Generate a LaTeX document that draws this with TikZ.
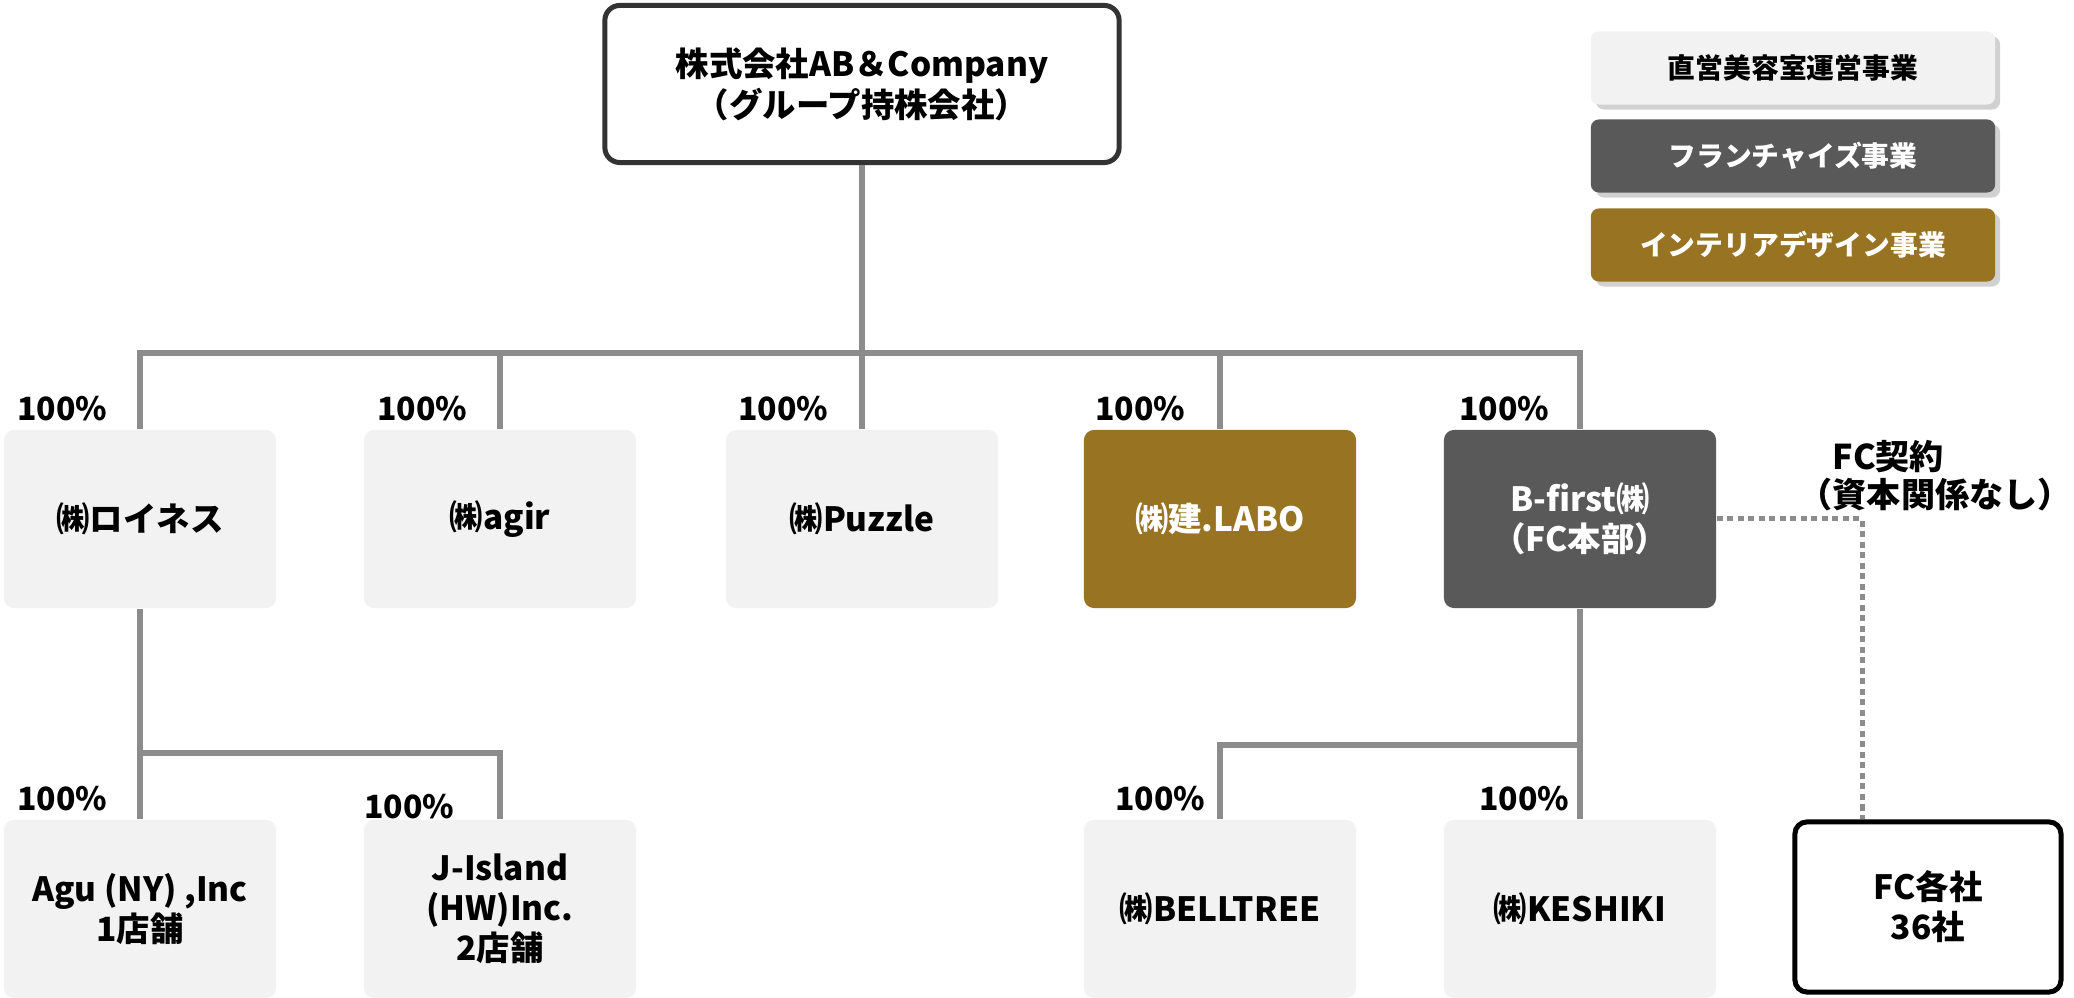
\documentclass[tikz,border=0pt]{standalone}
\usepackage{fontspec}
\setmainfont{Noto Sans CJK JP}
\usetikzlibrary{shadows}

\definecolor{boxlight}{HTML}{F2F2F2}
\definecolor{boxdark}{HTML}{595959}
\definecolor{boxgold}{HTML}{987322}
\definecolor{linegray}{HTML}{8C8C8C}
\definecolor{topframe}{HTML}{333333}

\begin{document}
\begin{tikzpicture}[x=0.01cm, y=-0.01cm,
		company/.style={rounded corners=0.1cm, minimum width=2.72cm, minimum height=1.78cm, inner sep=0pt, align=center, font=\fontsize{9.5}{11.4}\selectfont\bfseries},
		light/.style={company, fill=boxlight},
		gold/.style={company, fill=boxgold, text=white},
		dark/.style={company, fill=boxdark, text=white},
		legend/.style={rounded corners=0.08cm, minimum width=4.04cm, minimum height=0.73cm, inner sep=0pt, font=\fontsize{7.9}{9}\selectfont\bfseries, drop shadow={shadow xshift=0.05cm, shadow yshift=-0.05cm, opacity=0.3, fill=black!60}},
		pct/.style={anchor=east, inner sep=0pt, font=\fontsize{9.1}{11}\selectfont\bfseries},
		conn/.style={linegray, line width=0.055cm},
		fcline/.style={linegray, line width=0.05cm, dash pattern=on 0.06cm off 0.045cm}]
			\useasboundingbox (0,0) rectangle (2074,998);
			
			\node[draw=topframe, line width=0.05cm, rounded corners=0.15cm, minimum width=5.14cm, minimum height=1.57cm, align=center, font=\fontsize{9.5}{11.6}\selectfont\bfseries] (hold) at (862,84){株式会社AB＆Company\\（グループ持株会社）};
			
			\node[legend, fill=boxlight] (legdirect) at (1793,68){直営美容室運営事業};
			\node[legend, fill=boxdark, text=white] (legfc) at (1793,156){フランチャイズ事業};
			\node[legend, fill=boxgold, text=white] (leginterior) at (1793,245){インテリアデザイン事業};
			
			\node[light] (roi) at (140,519){㈱ロイネス};
			\node[light] (agir) at (500,519){㈱agir};
			\node[light] (puzzle) at (862,519){㈱Puzzle};
			\node[gold] (labo) at (1220,519){㈱建.LABO};
			\node[dark] (bfirst) at (1580,519){B-first㈱\\（FC本部）};
			
			\node[light] (agu) at (140,909){Agu (NY) ,Inc\\1店舗};
			\node[light] (jisland) at (500,909){J-Island\\(HW)Inc.\\2店舗};
			\node[light] (bell) at (1220,909){㈱BELLTREE};
			\node[light] (keshiki) at (1580,909){㈱KESHIKI};
			\node[company, fill=white, draw=black, line width=0.05cm, rounded corners=0.12cm, minimum width=2.66cm, minimum height=1.70cm] (fc) at (1928,907){FC各社\\36社};
			
			\foreach \x/\n in {108/a,468/b,829/c,1186/d,1550/e}
				\node[pct] (pct\n) at (\x,409){100\%};
			\foreach \x/\y/\n in {108/799/f,455/807/g,1206/799/h,1570/799/i}
				\node[pct] (pct\n) at (\x,\y){100\%};
			
			\node[anchor=north west, align=left, inner sep=0pt, font=\fontsize{9.7}{10.6}\selectfont\bfseries] (fcnote) at (1798,440){\hspace*{1em}FC契約\\（資本関係なし）};
			
			\coordinate (bus) at (0,353);
			\coordinate (lowleft) at (0,753);
			\coordinate (lowright) at (0,745);
			\coordinate (fcbend) at (1862,519);
			
			\draw[conn] (hold.south) -- (puzzle.north);
			\draw[conn] (roi.north) |- (bfirst.north |- bus) -- (bfirst.north);
			\draw[conn] (agir.north) -- (agir.north |- bus);
			\draw[conn] (labo.north) -- (labo.north |- bus);
			
			\draw[conn] (roi.south) -- (agu.north);
			\draw[conn] (roi.south |- lowleft) -| (jisland.north);
			\draw[conn] (bfirst.south) -- (keshiki.north);
			\draw[conn] (bfirst.south |- lowright) -| (bell.north);
			
			\draw[fcline] (bfirst.east) -- (fcbend) -- (fcbend |- fc.north);
		\end{tikzpicture}
\end{document}
